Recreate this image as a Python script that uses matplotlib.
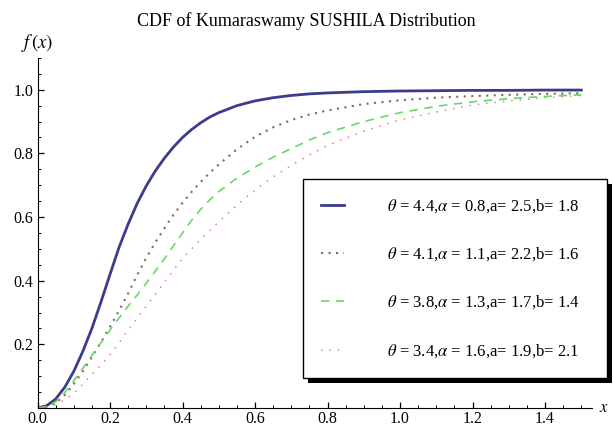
import numpy as np
import matplotlib
matplotlib.use("Agg")
import matplotlib.pyplot as plt
from matplotlib.patches import Rectangle
from matplotlib.ticker import MultipleLocator

plt.rcParams['font.family'] = ['Liberation Serif', 'DejaVu Serif']
plt.rcParams['mathtext.fontset'] = 'stix'

# values
x = [0.0, 0.025, 0.05, 0.075, 0.1, 0.125, 0.15, 0.175, 0.2, 0.225, 0.25,
     0.275, 0.3, 0.325, 0.35, 0.375, 0.4, 0.425, 0.45, 0.475, 0.5,
     0.55, 0.6, 0.65, 0.7, 0.75, 0.8, 0.9, 1.0, 1.1, 1.2, 1.3, 1.4, 1.5]
cdf1 = [0.0, 0.007, 0.028, 0.065, 0.115, 0.178, 0.25, 0.333, 0.42, 0.505, 0.578,
        0.643, 0.698, 0.745, 0.785, 0.82, 0.85, 0.875, 0.896, 0.914, 0.928,
        0.95, 0.965, 0.975, 0.982, 0.987, 0.99, 0.994, 0.996, 0.997, 0.998, 0.998, 0.999, 0.999]
cdf2 = [0.0, 0.004, 0.016, 0.04, 0.075, 0.115, 0.16, 0.207, 0.255, 0.306, 0.36,
        0.418, 0.472, 0.52, 0.565, 0.607, 0.645, 0.679, 0.71, 0.739, 0.765,
        0.813, 0.852, 0.882, 0.905, 0.922, 0.935, 0.955, 0.967, 0.975, 0.98, 0.984, 0.987, 0.989]
cdf3 = [0.0, 0.005, 0.019, 0.048, 0.085, 0.125, 0.165, 0.205, 0.245, 0.283, 0.32,
        0.355, 0.392, 0.43, 0.468, 0.51, 0.55, 0.59, 0.624, 0.654, 0.68,
        0.722, 0.757, 0.788, 0.815, 0.842, 0.865, 0.9, 0.928, 0.948, 0.962, 0.972, 0.979, 0.984]
cdf4 = [0.0, 0.003, 0.011, 0.026, 0.046, 0.075, 0.105, 0.135, 0.167, 0.205, 0.245,
        0.283, 0.32, 0.358, 0.395, 0.433, 0.47, 0.5, 0.53, 0.558, 0.585,
        0.637, 0.685, 0.726, 0.762, 0.795, 0.825, 0.87, 0.905, 0.93, 0.952, 0.965, 0.975, 0.982]
labels = [r"$\theta$ = 4.4,$\alpha$ = 0.8,a= 2.5,b= 1.8",
          r"$\theta$ = 4.1,$\alpha$ = 1.1,a= 2.2,b= 1.6",
          r"$\theta$ = 3.8,$\alpha$ = 1.3,a= 1.7,b= 1.4",
          r"$\theta$ = 3.4,$\alpha$ = 1.6,a= 1.9,b= 2.1"]

fig = plt.figure(figsize=(6.13, 4.29), dpi=100)
ax = fig.add_axes([0.0612, 0.049, 0.9048, 0.816])

ax.plot(x, cdf1, color='#3c3c8c', lw=2.0, label=labels[0])
ax.plot(x, cdf2, color='#8a6a4a', lw=1.5, ls=(0, (1, 2.6)), label=labels[1])
ax.plot(x, cdf3, color='#66d866', lw=1.2, ls=(0, (5, 4)), label=labels[2])
ax.plot(x, cdf4, color='#e88080', lw=1.1, ls=(0, (1, 4.5)), label=labels[3])

ax.set_xlim(0, 1.53)
ax.set_ylim(0, 1.1)
for s in ['top', 'right']:
    ax.spines[s].set_visible(False)
ax.spines['left'].set_bounds(0, 1.1)
ax.spines['bottom'].set_bounds(0, 1.53)

ax.set_xticks([0.0, 0.2, 0.4, 0.6, 0.8, 1.0, 1.2, 1.4])
ax.set_xticklabels(['0.0', '0.2', '0.4', '0.6', '0.8', '1.0', '1.2', '1.4'])
ax.set_yticks([0.2, 0.4, 0.6, 0.8, 1.0])
ax.set_yticklabels(['0.2', '0.4', '0.6', '0.8', '1.0'])
ax.xaxis.set_minor_locator(MultipleLocator(0.05))
ax.yaxis.set_minor_locator(MultipleLocator(0.05))
ax.tick_params(which='major', direction='in', length=4, width=0.9, labelsize=11.5)
ax.tick_params(axis='y', which='major', pad=3)
ax.tick_params(axis='x', which='major', pad=2)
ax.tick_params(which='minor', direction='in', length=2.2, width=0.7)

ax.text(0, 1.147, r"$f\,(x)$", ha='center', va='center', fontsize=13.5, clip_on=False)
ax.text(1.548, 0, r"$x$", ha='left', va='center', fontsize=12, clip_on=False)
fig.text(0.5, 0.951, "CDF of Kumaraswamy SUSHILA Distribution", ha='center',
         va='center', fontsize=13)

leg = ax.legend(loc='upper left', bbox_to_anchor=(303 / 613, 1 - 179 / 429, 304 / 613, 0),
                bbox_transform=fig.transFigure, mode='expand', fontsize=12,
                frameon=True, fancybox=False, framealpha=1, edgecolor='black',
                borderpad=1.1, labelspacing=1.83, handlelength=1.35, handletextpad=2.6,
                borderaxespad=0)
leg.get_frame().set_linewidth(1.0)
leg.set_zorder(6)

fig.canvas.draw()
bb = leg.get_window_extent()
ax.add_patch(Rectangle((bb.x0 + 5, bb.y0 - 5), bb.width, bb.height, transform=None,
                       facecolor='black', edgecolor='none', zorder=5, clip_on=False))

fig.savefig("out.png", dpi=100)
